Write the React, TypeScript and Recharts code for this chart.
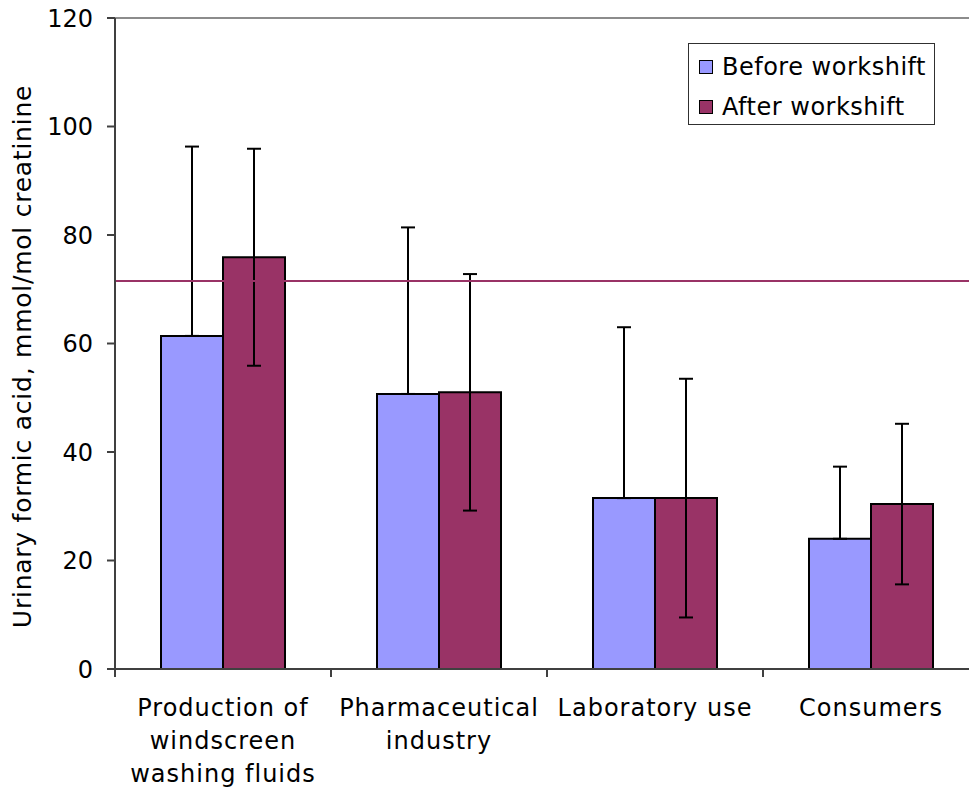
import { BarChart, Bar, XAxis, YAxis, ErrorBar, ReferenceLine, Legend, Label } from "recharts";

// categories and tick label lines
const categories = [
  "Production of windscreen washing fluids",
  "Pharmaceutical industry",
  "Laboratory use",
  "Consumers",
];
const tickLines = [
  ["Production of", "windscreen", "washing fluids"],
  ["Pharmaceutical", "industry"],
  ["Laboratory use"],
  ["Consumers"],
];

const seriesNames = ["Before workshift", "After workshift"];

// mean values, mmol/mol creatinine
const beforeValues = [61.4, 50.7, 31.5, 24.0];
const afterValues = [75.9, 51.0, 31.5, 30.4];

// error bars: before only upwards, after symmetric
const beforeErrUp = [34.9, 30.7, 31.5, 13.3];
const afterErr = [20.0, 21.8, 22.0, 14.8];

const referenceLevel = 71.5;
const yTicks = [0, 20, 40, 60, 80, 100, 120];

const CHART_W = 990;
const CHART_H = 789;
const MARGIN = { top: 18, right: 11, left: 0, bottom: 0 };
const YAXIS_W = 115;
const XAXIS_H = 120;
const AXIS_COLOR = "#404040";
const FONT = "'DejaVu Sans', Verdana, sans-serif";

const bandWidth = (CHART_W - MARGIN.left - MARGIN.right - YAXIS_W) / categories.length;
const plotHeight = CHART_H - MARGIN.top - MARGIN.bottom - XAXIS_H;

const data = categories.map((name, i) => ({
  name,
  before: beforeValues[i],
  after: afterValues[i],
  beforeErr: [0, beforeErrUp[i]],
  afterErr: [afterErr[i], afterErr[i]],
}));

const CategoryTick = (props: any) => {
  const { x, y, index } = props;
  const lines = tickLines[index] || [];
  const left = x - bandWidth / 2;
  return (
    <g>
      <line x1={left} y1={y} x2={left} y2={y + 8} stroke={AXIS_COLOR} strokeWidth={2} />
      <text
        x={x}
        y={y + 47}
        textAnchor="middle"
        fontSize={24}
        letterSpacing={1}
        fill="#000"
        fontFamily={FONT}
      >
        {lines.map((l: string, k: number) => (
          <tspan key={k} x={x} dy={k === 0 ? 0 : 33}>
            {l}
          </tspan>
        ))}
      </text>
    </g>
  );
};

const renderLegend = (props: any) => {
  const items = [...(props.payload || [])].sort(
    (a: any, b: any) => seriesNames.indexOf(a.value) - seriesNames.indexOf(b.value)
  );
  return (
    <div
      style={{
        border: "1.5px solid #303030",
        boxSizing: "border-box",
        width: "100%",
        height: "100%",
        padding: "3px 0 0 10px",
        fontFamily: FONT,
        fontSize: 24,
        letterSpacing: 0.5,
        background: "#fff",
      }}
    >
      {items.map((entry: any, i: number) => (
        <div key={i} style={{ display: "flex", alignItems: "center", height: 40 }}>
          <span
            style={{
              display: "inline-block",
              width: 12,
              height: 12,
              background: entry.color,
              border: "1.5px solid #000",
              marginRight: 9,
            }}
          />
          <span>{entry.value}</span>
        </div>
      ))}
    </div>
  );
};

const AxisTitle = () => {
  const cx = 22;
  const cy = MARGIN.top + plotHeight / 2 + 13;
  return (
    <text
      x={cx}
      y={cy}
      transform={`rotate(-90 ${cx} ${cy})`}
      textAnchor="middle"
      dominantBaseline="central"
      fontSize={25}
      letterSpacing={0.75}
      fontFamily={FONT}
      fill="#000"
    >
      Urinary formic acid, mmol/mol creatinine
    </text>
  );
};

export default function App() {
  return (
    <div
      style={{
        position: "absolute",
        left: 0,
        top: 0,
        width: 969,
        height: 789,
        overflow: "hidden",
        background: "#fff",
      }}
    >
      <BarChart
        width={CHART_W}
        height={CHART_H}
        data={data}
        margin={MARGIN}
        barCategoryGap={46}
        barGap={0}
        style={{ fontFamily: FONT }}
      >
        <ReferenceLine y={120} stroke="#8c8c8c" strokeWidth={2} />
        <XAxis
          dataKey="name"
          height={XAXIS_H}
          interval={0}
          tickLine={false}
          tickSize={0}
          tickMargin={0}
          axisLine={{ stroke: AXIS_COLOR, strokeWidth: 2 }}
          tick={<CategoryTick />}
        />
        <YAxis
          width={YAXIS_W}
          domain={[0, 120]}
          ticks={yTicks}
          interval={0}
          tickSize={8}
          tickMargin={14}
          axisLine={{ stroke: AXIS_COLOR, strokeWidth: 2 }}
          tickLine={{ stroke: AXIS_COLOR, strokeWidth: 2 }}
          tick={{ fontSize: 24, fill: "#000", fontFamily: FONT }}
        >
          <Label content={<AxisTitle />} />
        </YAxis>
        <Legend
          layout="horizontal"
          verticalAlign="middle"
          align="center"
          content={renderLegend}
          wrapperStyle={{ left: 688, top: 43, width: 247, height: 82 }}
        />
        <Bar
          dataKey="before"
          name={seriesNames[0]}
          fill="#9999FF"
          stroke="#000"
          strokeWidth={2}
          isAnimationActive={false}
        >
          <ErrorBar dataKey="beforeErr" width={7} stroke="#000" strokeWidth={2} isAnimationActive={false} />
        </Bar>
        <Bar
          dataKey="after"
          name={seriesNames[1]}
          fill="#993366"
          stroke="#000"
          strokeWidth={2}
          isAnimationActive={false}
        >
          <ErrorBar dataKey="afterErr" width={7} stroke="#000" strokeWidth={2} isAnimationActive={false} />
        </Bar>
        <ReferenceLine y={referenceLevel} stroke="#993366" strokeWidth={2} />
      </BarChart>
    </div>
  );
}
